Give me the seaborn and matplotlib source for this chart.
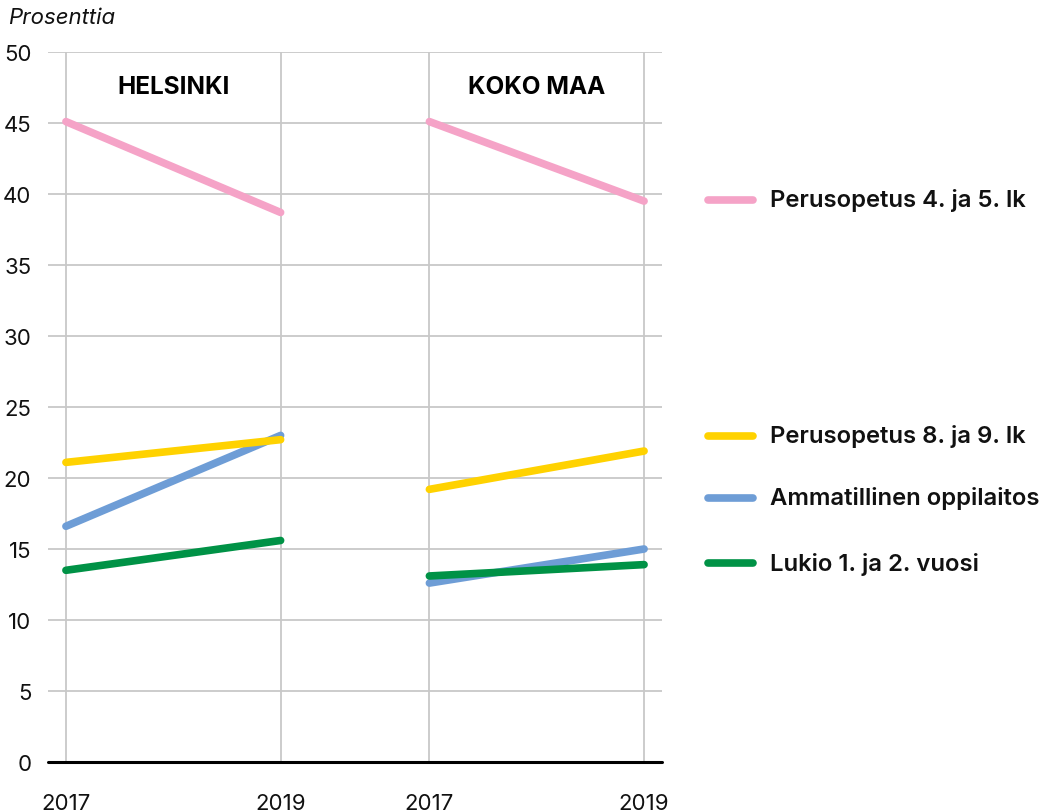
import matplotlib
matplotlib.use("Agg")
import matplotlib.pyplot as plt
import seaborn as sns
import pandas as pd
from matplotlib.lines import Line2D

# ---- data ----
regions = ["HELSINKI", "KOKO MAA"]
years = [2017, 2019]
series = ["Perusopetus 4. ja 5. lk", "Ammatillinen oppilaitos",
          "Perusopetus 8. ja 9. lk", "Lukio 1. ja 2. vuosi"]
helsinki_vals = {
    "Perusopetus 4. ja 5. lk": [45.1, 38.7],
    "Ammatillinen oppilaitos": [16.6, 23.0],
    "Perusopetus 8. ja 9. lk": [21.1, 22.7],
    "Lukio 1. ja 2. vuosi": [13.5, 15.6],
}
kokomaa_vals = {
    "Perusopetus 4. ja 5. lk": [45.1, 39.5],
    "Ammatillinen oppilaitos": [12.6, 15.0],
    "Perusopetus 8. ja 9. lk": [19.2, 21.9],
    "Lukio 1. ja 2. vuosi": [13.1, 13.9],
}
legend_order = ["Perusopetus 4. ja 5. lk", "Perusopetus 8. ja 9. lk",
                "Ammatillinen oppilaitos", "Lukio 1. ja 2. vuosi"]
tick_labels = ["2017", "2019", "2017", "2019"]
y_label = "Prosenttia"

colors = {
    "Perusopetus 4. ja 5. lk": "#F5A3C7",
    "Perusopetus 8. ja 9. lk": "#FFD200",
    "Ammatillinen oppilaitos": "#6E9DD6",
    "Lukio 1. ja 2. vuosi": "#009246",
}

# layout: x offset of each region panel (in year units)
region_offset = {"HELSINKI": 0.0, "KOKO MAA": 3.386}

rows = []
for reg, vals in zip(regions, [helsinki_vals, kokomaa_vals]):
    for s in series:
        for yr, v in zip(years, vals[s]):
            rows.append({"region": reg, "series": s, "year": yr,
                         "x": region_offset[reg] + (yr - years[0]), "value": v})
df = pd.DataFrame(rows)

sns.set_theme(style="white")
plt.rcParams["font.family"] = ["Inter", "DejaVu Sans"]

fig = plt.figure(figsize=(10.5, 8.12), dpi=100)
ax = fig.add_axes([48 / 1050, 1 - 763 / 812, (662 - 48) / 1050, (763 - 53) / 812])

sns.lineplot(data=df, x="x", y="value", hue="series", hue_order=series,
             units="region", estimator=None, palette=colors, linewidth=5.5,
             legend=False, ax=ax, solid_capstyle="round", zorder=3)

xticks = sorted(df["x"].unique())
ax.set_xlim(-0.167, xticks[-1] + 0.167)
ax.set_ylim(0, 50)
ax.set_yticks(range(0, 51, 5))
ax.set_xticks(xticks)
ax.set_xticklabels(tick_labels)
ax.set_xlabel("")
ax.set_ylabel("")

for sp in ax.spines.values():
    sp.set_visible(False)

ax.grid(True, axis="both", color="#c8c8c8", linewidth=1.3)
ax.set_axisbelow(True)
ax.axhline(0, color="black", linewidth=2.2, zorder=4, clip_on=False)

ax.tick_params(axis="y", length=0, pad=12, labelsize=16, labelcolor="#111111")
ax.tick_params(axis="x", length=18, width=1.3, color="#c8c8c8", direction="out",
               pad=4, labelsize=16, labelcolor="#111111")

# region titles
for reg in regions:
    xs = df.loc[df["region"] == reg, "x"]
    ax.text((xs.min() + xs.max()) / 2, 47.6, reg, ha="center", va="center",
            fontsize=17.5, fontweight="bold", color="black")

fig.text(8 / 1050, 1 - 18 / 812, y_label, fontsize=16, style="italic",
         ha="left", va="center", color="#111111")

# right-side labels (legend)
label_y = {"Perusopetus 4. ja 5. lk": 201, "Perusopetus 8. ja 9. lk": 437,
           "Ammatillinen oppilaitos": 499, "Lukio 1. ja 2. vuosi": 564}
for s in legend_order:
    yy = 1 - label_y[s] / 812
    fig.add_artist(Line2D([708 / 1050, 753 / 1050], [yy, yy], color=colors[s],
                          linewidth=5.5, solid_capstyle="round",
                          transform=fig.transFigure))
    fig.text(770 / 1050, yy, s, fontsize=17.2, fontweight="semibold",
             ha="left", va="center", color="#111111")

fig.savefig("out.png", dpi=100)
